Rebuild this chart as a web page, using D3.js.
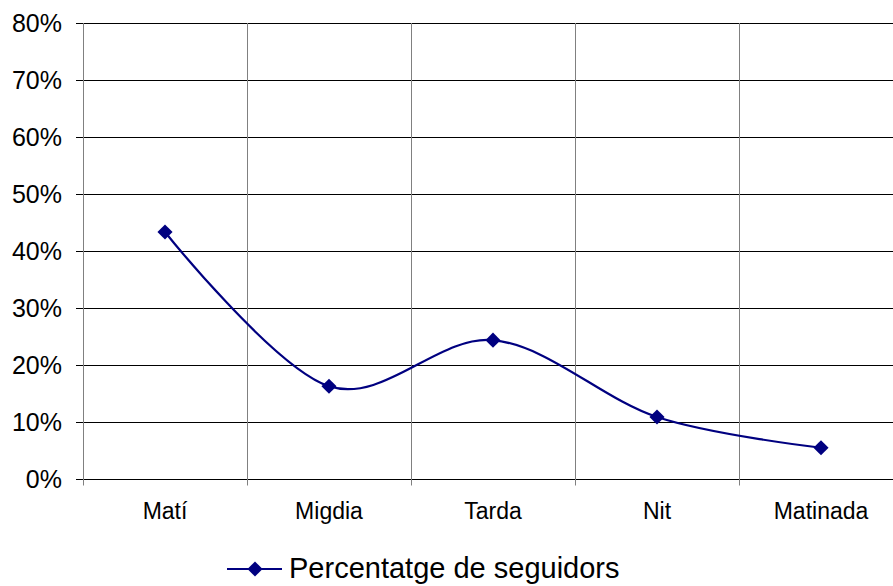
<!DOCTYPE html>
<html>
<head>
<meta charset="utf-8">
<script src="https://cdn.jsdelivr.net/npm/d3@7"></script>
<style>
  body { margin: 0; background: #fff; }
  svg { display: block; font-family: "Liberation Sans", Arial, sans-serif; }
</style>
</head>
<body>
<div id="chart"></div>
<script>
const categories = ['Matí', 'Migdia', 'Tarda', 'Nit', 'Matinada'];
const values = [0.433, 0.162, 0.243, 0.108, 0.054];
const yTicks = [0, 0.1, 0.2, 0.3, 0.4, 0.5, 0.6, 0.7, 0.8];
const seriesName = 'Percentatge de seguidors';

const svg = d3.select('#chart').append('svg')
  .attr('width', 893)
  .attr('height', 586);

const plotLeft = 83, plotRight = 903, plotTop = 23, plotBottom = 478.5;

const x = d3.scaleBand()
  .domain(categories)
  .range([plotLeft, plotRight]);

const y = d3.scaleLinear()
  .domain([0, 0.8])
  .range([plotBottom, plotTop]);

// horizontal gridlines
svg.append('g')
  .selectAll('line')
  .data(yTicks)
  .enter().append('line')
  .attr('x1', plotLeft - 7)
  .attr('x2', plotRight)
  .attr('y1', d => Math.round(y(d)) + 0.5)
  .attr('y2', d => Math.round(y(d)) + 0.5)
  .attr('stroke', '#000')
  .attr('stroke-width', 1);

// vertical gridlines / category ticks
const edges = categories.map(c => x(c)).concat([plotRight]);
svg.append('g')
  .selectAll('line')
  .data(edges)
  .enter().append('line')
  .attr('x1', d => Math.round(d) + 0.5)
  .attr('x2', d => Math.round(d) + 0.5)
  .attr('y1', plotTop)
  .attr('y2', plotBottom + 7)
  .attr('stroke', '#808080')
  .attr('stroke-width', 1);

// y labels
svg.append('g')
  .selectAll('text')
  .data(yTicks)
  .enter().append('text')
  .attr('x', 62)
  .attr('y', d => y(d))
  .attr('dy', '0.36em')
  .attr('text-anchor', 'end')
  .style('font-size', '25px')
  .text(d3.format('.0%'));

// x labels
svg.append('g')
  .selectAll('text')
  .data(categories)
  .enter().append('text')
  .attr('x', d => x(d) + x.bandwidth() / 2)
  .attr('y', 519)
  .attr('text-anchor', 'middle')
  .style('font-size', '23px')
  .text(d => d);

const pts = categories.map((c, i) => [x(c) + x.bandwidth() / 2, y(values[i])]);

const line = d3.line().curve(d3.curveCardinal.tension(0));

svg.append('path')
  .attr('d', line(pts))
  .attr('fill', 'none')
  .attr('stroke', '#000080')
  .attr('stroke-width', 2.2);

const diamond = d3.symbol().type(d3.symbolSquare).size(115);

svg.append('g')
  .selectAll('path')
  .data(pts)
  .enter().append('path')
  .attr('d', diamond)
  .attr('transform', d => `translate(${d[0]},${d[1]}) rotate(45)`)
  .attr('fill', '#000080');

// legend
const lg = svg.append('g').attr('transform', 'translate(227,569)');
lg.append('line')
  .attr('x1', 0).attr('x2', 55)
  .attr('stroke', '#000080')
  .attr('stroke-width', 2.2);
lg.append('path')
  .attr('d', diamond)
  .attr('transform', 'translate(28,0) rotate(45)')
  .attr('fill', '#000080');
lg.append('text')
  .attr('x', 62)
  .attr('y', 9)
  .style('font-size', '29px')
  .text(seriesName);
</script>
</body>
</html>
